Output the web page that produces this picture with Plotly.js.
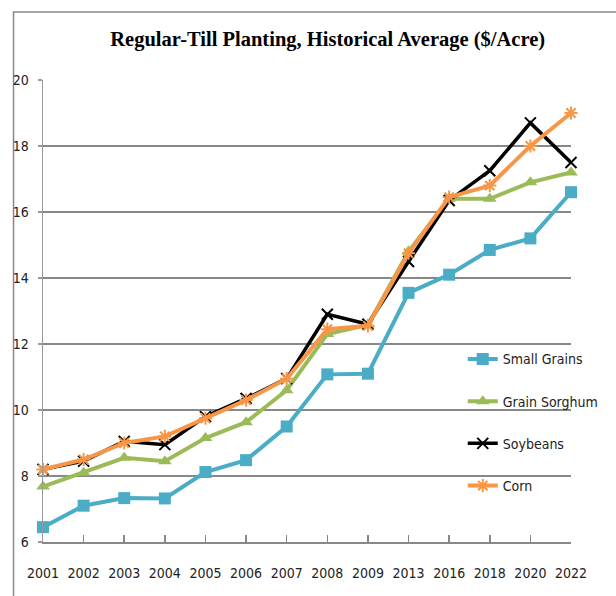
<!DOCTYPE html>
<html>
<head>
<meta charset="utf-8">
<script src="https://cdn.plot.ly/plotly-3.0.1.min.js"></script>
<style>html,body{margin:0;padding:0;background:#fff;}#chart{width:616px;height:596px;}</style>
</head>
<body>
<div id="chart"></div>
<script>
const years = ["2001","2002","2003","2004","2005","2006","2007","2008","2009","2013","2016","2018","2020","2022"];
const smallGrains = [6.45, 7.1, 7.33, 7.32, 8.12, 8.48, 9.5, 11.08, 11.1, 13.55, 14.1, 14.85, 15.2, 16.6];
const grainSorghum = [7.68, 8.1, 8.55, 8.45, 9.15, 9.63, 10.6, 12.3, 12.58, 14.8, 16.4, 16.4, 16.9, 17.2];
const soybeans = [8.2, 8.45, 9.05, 8.95, 9.8, 10.35, 10.95, 12.9, 12.6, 14.5, 16.35, 17.25, 18.7, 17.5];
const corn = [8.2, 8.5, 9.0, 9.2, 9.75, 10.3, 10.95, 12.45, 12.55, 14.75, 16.45, 16.8, 18.0, 19.0];
const seriesNames = ["Small Grains", "Grain Sorghum", "Soybeans", "Corn"];

const narrow = '"Liberation Sans Narrow", "DejaVu Sans Condensed", "Liberation Sans", sans-serif';

const traces = [
  {x: years, y: smallGrains, name: seriesNames[0], legendgroup: 'a', mode: 'lines+markers', cliponaxis: false,
   line: {color: '#4BACC6', width: 4}, marker: {symbol: 'square', size: 12, color: '#4BACC6'}},
  {x: years, y: grainSorghum, name: seriesNames[1], legendgroup: 'b', mode: 'lines+markers', cliponaxis: false,
   line: {color: '#9BBB59', width: 4}, marker: {symbol: 'triangle-up', size: 12, color: '#9BBB59'}},
  {x: years, y: soybeans, name: seriesNames[2], legendgroup: 'c', mode: 'lines+markers', cliponaxis: false,
   line: {color: '#000000', width: 3.5}, marker: {symbol: 'x-thin-open', size: 11, color: '#000000', line: {color: '#000000', width: 2}}},
  {x: years, y: corn, name: seriesNames[3], legendgroup: 'd', mode: 'lines+markers', cliponaxis: false,
   line: {color: '#F79646', width: 4}, marker: {symbol: 'asterisk-open', size: 11, color: '#F79646', line: {color: '#F79646', width: 2}}}
];

const layout = {
  width: 616, height: 596,
  margin: {l: 43, r: 17, t: 80, b: 54, pad: 0},
  paper_bgcolor: '#fff', plot_bgcolor: '#fff',
  showlegend: true,
  title: {text: '<b>Regular-Till Planting, Historical Average ($/Acre)</b>',
          font: {family: '"Liberation Serif", "Times New Roman", serif', size: 20.5, color: '#000'},
          x: 0.532, xanchor: 'center', y: 0.935, yanchor: 'middle'},
  xaxis: {type: 'category', range: [0, 13], showgrid: false, zeroline: false,
          showline: true, linecolor: '#888', linewidth: 1.5,
          ticks: 'inside', ticklen: 7, tickcolor: '#888', tickwidth: 1.5,
          ticklabelstandoff: 18,
          tickfont: {family: narrow, size: 14, color: '#222'}},
  yaxis: {range: [6, 20], dtick: 2, showgrid: true, gridcolor: '#888', gridwidth: 1.5, zeroline: false,
          showline: true, linecolor: '#999', linewidth: 1.5,
          ticks: 'outside', ticklen: 4, tickcolor: '#999', tickwidth: 1.5,
          ticklabelstandoff: 6,
          tickfont: {family: narrow, size: 14, color: '#222'}},
  legend: {x: 0.795, y: 0.43, xanchor: 'left', yanchor: 'top', bgcolor: 'rgba(0,0,0,0)',
           font: {family: narrow, size: 14, color: '#222'}, tracegroupgap: 21, itemwidth: 30},
  shapes: [
    {type: 'rect', xref: 'paper', yref: 'paper', x0: -0.0558, x1: 1.2, y0: -0.3, y1: 1.147,
     line: {color: '#888', width: 1.5}, fillcolor: 'rgba(0,0,0,0)', layer: 'below'}
  ]
};

Plotly.newPlot('chart', traces, layout, {displayModeBar: false, staticPlot: true});
</script>
</body>
</html>
